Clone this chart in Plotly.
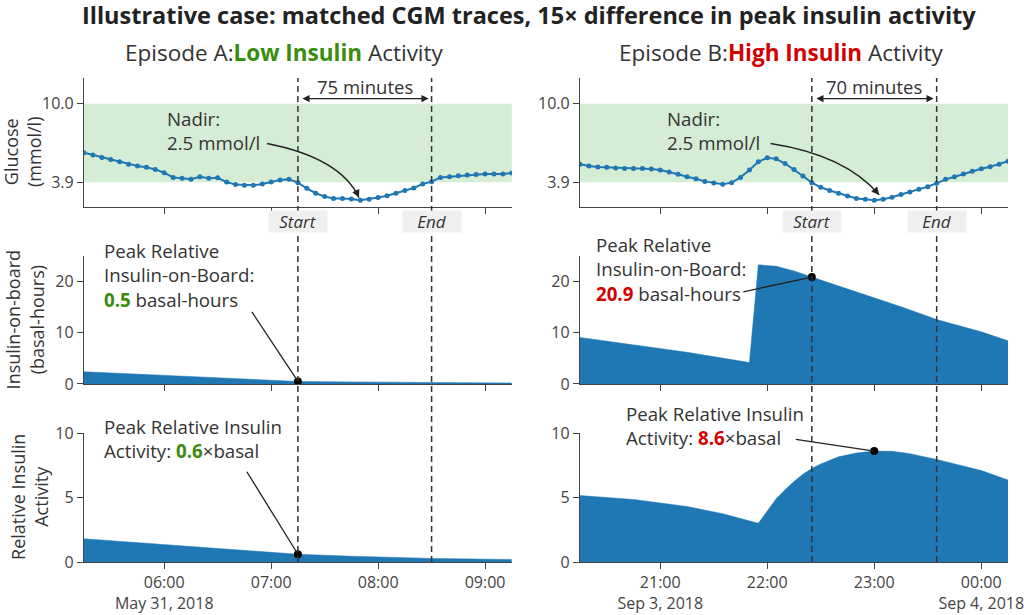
import pandas as pd
import plotly.graph_objects as go

# ---- data ----
# CGM samples, every 5 minutes
cgm_times_a = pd.date_range("2018-05-31 05:15", "2018-05-31 09:15", freq="5min")
cgm_times_b = pd.date_range("2018-09-03 20:15", "2018-09-04 00:15", freq="5min")

glucose_a = [6.19, 6.01, 5.83, 5.67, 5.49, 5.31, 5.16, 5.06, 4.90, 4.64,
             4.28, 4.22, 4.13, 4.33, 4.22, 4.25, 3.92, 3.72, 3.67, 3.67,
             3.77, 3.92, 4.08, 4.13, 3.87, 3.43, 3.05, 2.79, 2.64, 2.64,
             2.61, 2.50, 2.59, 2.72, 2.85, 3.05, 3.26, 3.46, 3.77, 3.95,
             4.28, 4.33, 4.41, 4.46, 4.51, 4.54, 4.54, 4.54, 4.62]
glucose_b = [5.31, 5.16, 5.08, 5.06, 5.00, 4.98, 4.98, 4.98, 4.93, 4.85,
             4.70, 4.52, 4.33, 4.18, 3.97, 3.85, 3.74, 3.87, 4.28, 4.85,
             5.49, 5.80, 5.72, 5.36, 4.90, 4.39, 3.87, 3.51, 3.26, 3.05,
             2.84, 2.64, 2.59, 2.50, 2.59, 2.74, 2.95, 3.15, 3.36, 3.56,
             3.82, 4.13, 4.33, 4.54, 4.75, 4.95, 5.11, 5.31, 5.54]

# insulin-on-board (basal-hours)
iob_times_a = ["2018-05-31 05:15", "2018-05-31 06:15", "2018-05-31 06:45",
               "2018-05-31 07:15", "2018-05-31 07:45", "2018-05-31 08:30",
               "2018-05-31 09:15"]
iob_a = [2.4, 1.5, 1.0, 0.5, 0.4, 0.3, 0.2]
iob_times_b = ["2018-09-03 20:15", "2018-09-03 20:45", "2018-09-03 21:15",
               "2018-09-03 21:50", "2018-09-03 21:55", "2018-09-03 22:05",
               "2018-09-03 22:15", "2018-09-03 22:25", "2018-09-03 22:45",
               "2018-09-03 23:00", "2018-09-03 23:15", "2018-09-03 23:35",
               "2018-09-03 23:50", "2018-09-04 00:00", "2018-09-04 00:15"]
iob_b = [9.1, 7.6, 6.2, 4.2, 23.3, 23.0, 22.1, 20.9, 18.6,
         16.8, 15.1, 12.6, 11.1, 10.2, 8.45]

# relative insulin activity (x basal)
act_times_a = ["2018-05-31 05:15", "2018-05-31 06:15", "2018-05-31 07:15",
               "2018-05-31 07:45", "2018-05-31 08:30", "2018-05-31 09:15"]
act_a = [1.8, 1.2, 0.6, 0.45, 0.28, 0.2]
act_times_b = ["2018-09-03 20:15", "2018-09-03 20:45", "2018-09-03 21:15",
               "2018-09-03 21:35", "2018-09-03 21:55", "2018-09-03 22:00",
               "2018-09-03 22:05", "2018-09-03 22:10", "2018-09-03 22:15",
               "2018-09-03 22:20", "2018-09-03 22:25", "2018-09-03 22:30",
               "2018-09-03 22:40", "2018-09-03 22:50", "2018-09-03 23:00",
               "2018-09-03 23:10", "2018-09-03 23:20", "2018-09-03 23:35",
               "2018-09-03 23:50", "2018-09-04 00:00", "2018-09-04 00:15"]
act_b = [5.15, 4.85, 4.3, 3.75, 3.0, 4.0, 4.9, 5.6, 6.25, 6.8, 7.25, 7.6,
         8.15, 8.45, 8.6, 8.58, 8.4, 7.95, 7.45, 7.1, 6.35]

# episode windows, nadirs, peaks
window_a = ("2018-05-31 05:15", "2018-05-31 09:15")
window_b = ("2018-09-03 20:15", "2018-09-04 00:15")
episode_a = ("2018-05-31 07:15", "2018-05-31 08:30")
episode_b = ("2018-09-03 22:25", "2018-09-03 23:35")
minutes_a, minutes_b = 75, 70
nadir_a = ("2018-05-31 07:50", 2.5)
nadir_b = ("2018-09-03 23:00", 2.5)
peak_iob_a = ("2018-05-31 07:15", 0.5)
peak_iob_b = ("2018-09-03 22:25", 20.9)
peak_act_a = ("2018-05-31 07:15", 0.6)
peak_act_b = ("2018-09-03 23:00", 8.6)
range_low, range_high = 3.9, 10.0

BLUE = "#1f77b4"
GREEN = "#3a8c0e"
RED = "#d40000"
TXT = "#444"
FONT = "Open Sans"

fig = go.Figure()

# glucose traces
fig.add_trace(go.Scatter(x=cgm_times_a, y=glucose_a, mode="lines+markers",
                         line=dict(color=BLUE, width=2), marker=dict(size=5, color=BLUE),
                         xaxis="x", yaxis="y"))
fig.add_trace(go.Scatter(x=cgm_times_b, y=glucose_b, mode="lines+markers",
                         line=dict(color=BLUE, width=2), marker=dict(size=5, color=BLUE),
                         xaxis="x2", yaxis="y2"))

# filled insulin panels
for xs, ys, xa, ya in [(iob_times_a, iob_a, "x3", "y3"), (iob_times_b, iob_b, "x4", "y4"),
                       (act_times_a, act_a, "x5", "y5"), (act_times_b, act_b, "x6", "y6")]:
    fig.add_trace(go.Scatter(x=xs, y=ys, mode="lines", fill="tozeroy",
                             line=dict(color=BLUE, width=0.5), fillcolor=BLUE,
                             xaxis=xa, yaxis=ya))

# peak dots
for pt, xa, ya in [(peak_iob_a, "x3", "y3"), (peak_iob_b, "x4", "y4"),
                   (peak_act_a, "x5", "y5"), (peak_act_b, "x6", "y6")]:
    fig.add_trace(go.Scatter(x=[pt[0]], y=[pt[1]], mode="markers",
                             marker=dict(size=8, color="black"), xaxis=xa, yaxis=ya))

shapes = []
# target range band
for ya, xa in [("y", "x"), ("y2", "x2")]:
    shapes.append(dict(type="rect", xref=xa + " domain", x0=0, x1=1, yref=ya,
                       y0=range_low, y1=range_high, fillcolor="rgba(44,160,44,0.2)",
                       line=dict(width=0), layer="below"))
# episode start / end lines across all rows
for xa, ep in [("x", episode_a), ("x2", episode_b)]:
    for t in ep:
        shapes.append(dict(type="line", xref=xa, x0=t, x1=t, yref="paper", y0=0, y1=1,
                           line=dict(color="#333", width=1.5, dash="6px,4px")))


def pstamp(ts):
    return pd.Timestamp(ts).strftime("%Y-%m-%d_%H:%M:%S")


# curved nadir arrows (tail, control, head)
nadir_curves = [("x", "y", ("2018-05-31 06:57:44", 6.91), ("2018-05-31 07:38:56", 5.78),
                 ("2018-05-31 07:49:15", 2.71), (-4, -9)),
                ("x2", "y2", ("2018-09-03 22:01:50", 6.91), ("2018-09-03 22:44:00", 6.01),
                 ("2018-09-03 23:02:45", 2.92), (-6, -7))]
annotations = []
for xa, ya, p0, p1, p2, head_off in nadir_curves:
    shapes.append(dict(type="path", xref=xa, yref=ya,
                       path="M %s %s Q %s %s %s %s" % (pstamp(p0[0]), p0[1], pstamp(p1[0]),
                                                       p1[1], pstamp(p2[0]), p2[1]),
                       line=dict(color="#222", width=1.4)))
    annotations.append(dict(x=p2[0], y=p2[1], xref=xa, yref=ya, text="", showarrow=True,
                            arrowhead=2, arrowsize=1.1, arrowwidth=1.4, arrowcolor="#222",
                            ax=head_off[0], ay=head_off[1]))

# duration arrows
for xa, ya, ep, mins in [("x", "y", episode_a, minutes_a), ("x2", "y2", episode_b, minutes_b)]:
    annotations.append(dict(x=ep[1], y=10.4, ax=ep[0], ay=10.4, xref=xa, yref=ya,
                            axref=xa, ayref=ya, text="", showarrow=True,
                            arrowside="end+start", arrowhead=2, arrowsize=1.1,
                            arrowwidth=1.3, arrowcolor="#222", standoff=3, startstandoff=3))
    mid = pd.Timestamp(ep[0]) + (pd.Timestamp(ep[1]) - pd.Timestamp(ep[0])) / 2
    annotations.append(dict(x=mid, y=11.35, xref=xa, yref=ya, text="%d minutes" % mins,
                            showarrow=False, xanchor="center", yanchor="middle",
                            font=dict(size=18.5, color="#333")))
    for t, lab in zip(ep, ["Start", "End"]):
        annotations.append(dict(x=t, y=0.7025, xref=xa, yref="paper", text="<i>%s</i>" % lab,
                                showarrow=False, xanchor="center", yanchor="middle",
                                bgcolor="#f0f0f0", width=56, height=19, borderpad=1,
                                font=dict(size=17, color="#333")))

# peak connectors (head at dot, tail offset in px)
for pt, xa, ya, off in [(peak_iob_a, "x3", "y3", (-47, -71)), (peak_iob_b, "x4", "y4", (-70, 15)),
                        (peak_act_a, "x5", "y5", (-52, -84)), (peak_act_b, "x6", "y6", (-80, -12))]:
    annotations.append(dict(x=pt[0], y=pt[1], xref=xa, yref=ya, text="", showarrow=True,
                            arrowhead=0, arrowwidth=1.3, arrowcolor="#222",
                            ax=off[0], ay=off[1]))


def hl(v, c):
    return "<b><span style='color:%s'>%s</span></b>" % (c, v)


texts = [
    (0.0877, 0.892, "Nadir:<br>%.1f mmol/l" % nadir_a[1]),
    (0.6288, 0.892, "Nadir:<br>%.1f mmol/l" % nadir_b[1]),
    (0.0195, 0.593, "Peak Relative<br>Insulin-on-Board:<br>%s basal-hours" % hl(peak_iob_a[1], GREEN)),
    (0.552, 0.6064, "Peak Relative<br>Insulin-on-Board:<br>%s basal-hours" % hl(peak_iob_b[1], RED)),
    (0.0192, 0.2556, "Peak Relative Insulin<br>Activity: %s×basal" % hl(peak_act_a[1], GREEN)),
    (0.5847, 0.281, "Peak Relative Insulin<br>Activity: %s×basal" % hl(peak_act_b[1], RED)),
]
for x, y, t in texts:
    annotations.append(dict(x=x, y=y, xref="paper", yref="paper", text=t, showarrow=False,
                            xanchor="left", yanchor="middle", align="left",
                            font=dict(size=18.7, color="#333")))

# y axis titles (left column only)
for x, y, t in [(-0.0668, 0.8477, "Glucose<br>(mmol/l)"),
                (-0.0645, 0.5, "Insulin-on-board<br>(basal-hours)"),
                (-0.0585, 0.1343, "Relative Insulin<br>Activity")]:
    annotations.append(dict(x=x, y=y, xref="paper", yref="paper", text=t, showarrow=False,
                            textangle=-90, xanchor="center", yanchor="middle",
                            font=dict(size=18, color="#333")))

# column titles and main title
annotations.append(dict(x=0.2165, y=1.0537, xref="paper", yref="paper", showarrow=False,
                        xanchor="center", yanchor="middle",
                        text="Episode A:%s Activity" % hl("Low Insulin", GREEN),
                        font=dict(size=22.5, color="#333")))
annotations.append(dict(x=0.7554, y=1.0537, xref="paper", yref="paper", showarrow=False,
                        xanchor="center", yanchor="middle",
                        text="Episode B:%s Activity" % hl("High Insulin", RED),
                        font=dict(size=22.5, color="#333")))
annotations.append(dict(x=0.4816, y=1.131, xref="paper", yref="paper", showarrow=False,
                        xanchor="center", yanchor="middle",
                        text="<b>Illustrative case: matched CGM traces, 15× difference in peak insulin activity</b>",
                        font=dict(size=23.5, color="#222")))

xbase = dict(type="date", showline=True, linecolor=TXT, linewidth=1.3, ticks="outside",
             ticklen=6, tickcolor=TXT, dtick=3600000, showgrid=False, zeroline=False,
             automargin=False, ticklabeloverflow="allow",
             tickfont=dict(size=16, color=TXT))
ybase = dict(showline=True, linecolor=TXT, linewidth=1.3, ticks="outside", ticklen=6,
             tickcolor=TXT, showgrid=False, zeroline=False, automargin=False,
             tickfont=dict(size=16, color=TXT))
left_dom, right_dom = [0, 0.463], [0.5368, 1]
dom_g, dom_i, dom_a = [0.734, 1], [0.3678, 0.632], [0, 0.2665]

fig.update_layout(
    width=1024, height=615,
    margin=dict(l=84, r=16, t=78, b=53),
    paper_bgcolor="white", plot_bgcolor="white",
    font=dict(family=FONT, color=TXT),
    showlegend=False,
    xaxis=dict(xbase, domain=left_dom, anchor="y", range=list(window_a), showticklabels=False, matches="x5"),
    xaxis2=dict(xbase, domain=right_dom, anchor="y2", range=list(window_b), showticklabels=False, matches="x6"),
    xaxis3=dict(xbase, domain=left_dom, anchor="y3", range=list(window_a), showticklabels=False, matches="x5"),
    xaxis4=dict(xbase, domain=right_dom, anchor="y4", range=list(window_b), showticklabels=False, matches="x6"),
    xaxis5=dict(xbase, domain=left_dom, anchor="y5", range=list(window_a)),
    xaxis6=dict(xbase, domain=right_dom, anchor="y6", range=list(window_b)),
    yaxis=dict(ybase, domain=dom_g, anchor="x", range=[2, 12], tickvals=[range_low, range_high],
               ticktext=["3.9", "10.0"]),
    yaxis2=dict(ybase, domain=dom_g, anchor="x2", range=[2, 12], tickvals=[range_low, range_high],
                ticktext=["3.9", "10.0"]),
    yaxis3=dict(ybase, domain=dom_i, anchor="x3", range=[0, 25], tickvals=[0, 10, 20]),
    yaxis4=dict(ybase, domain=dom_i, anchor="x4", range=[0, 25], tickvals=[0, 10, 20]),
    yaxis5=dict(ybase, domain=dom_a, anchor="x5", range=[0, 10], tickvals=[0, 5, 10]),
    yaxis6=dict(ybase, domain=dom_a, anchor="x6", range=[0, 10], tickvals=[0, 5, 10]),
    shapes=shapes,
    annotations=annotations,
)

# the page body has a default 8px margin; drop it so the figure fills the window
fig.write_html("out.html", config={"displayModeBar": False},
               post_script="document.body.style.margin='0';"
                           "document.documentElement.style.overflow='hidden';")
